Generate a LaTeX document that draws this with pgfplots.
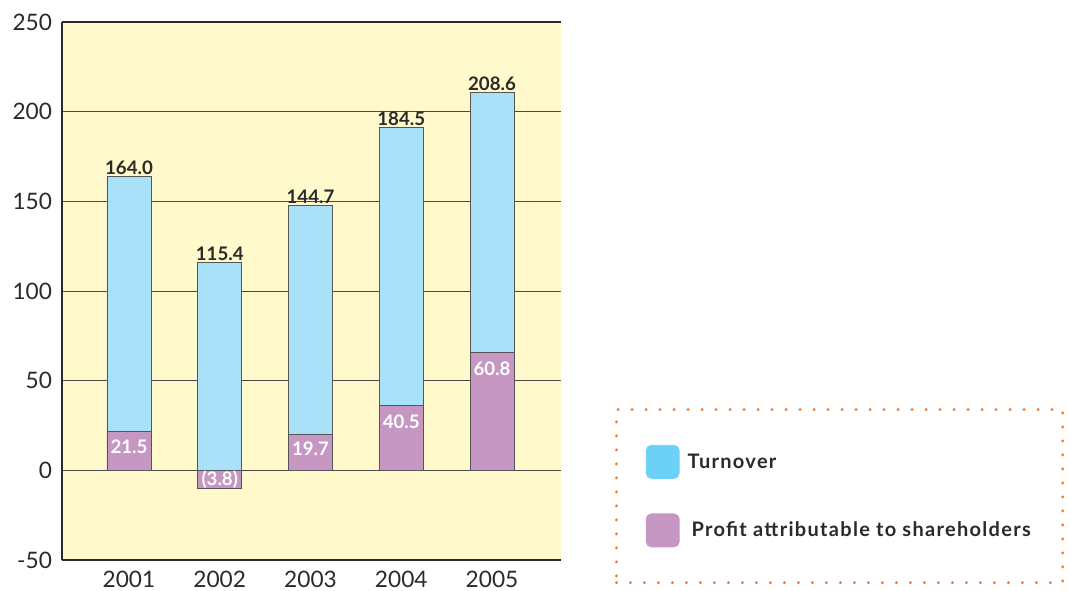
\documentclass[border=0pt]{standalone}
\usepackage{pgfplots}
\pgfplotsset{compat=1.18}
\usepackage{pgfplotstable}
\usepackage{fontspec}
\setmainfont{Lato}
\newfontfamily\legfont[LetterSpace=6.5]{Lato}
\definecolor{bg}{HTML}{FFF9CC}
\definecolor{turn}{HTML}{A9E1F9}
\definecolor{turnleg}{HTML}{6DD0F7}
\definecolor{prof}{HTML}{C697C3}
\definecolor{dots}{HTML}{E8772E}
\definecolor{txt}{HTML}{2A2A2A}
\pgfplotstableread{
x turnover tlabel profit plabel pdy
1 163.7 164.0 21.6 21.5 -11
2 115.8 115.4 -10.0 (3.8) 6.5
3 147.5 144.7 20.0 19.7 -10.5
4 191.5 184.5 36.2 40.5 -12
5 210.5 208.6 65.7 60.8 -12
}\datatable
\begin{document}
\begin{tikzpicture}
\useasboundingbox (0,0) rectangle (803.25pt,443.25pt);
\begin{axis}[
  at={(46.5pt,23.25pt)}, anchor=south west,
  scale only axis, width=374.25pt, height=403.5pt,
  xmin=0.262, xmax=5.76, ymin=-50, ymax=250,
  axis x line=box, axis y line=left,
  axis line style={draw=txt, line width=0.8pt, -},
  axis background/.style={fill=bg},
  xtick={1,2,3,4,5}, xticklabels={2001,2002,2003,2004,2005},
  ytick={-50,0,50,100,150,200,250},
  yticklabels={-50,0,50,100,150,200,250},
  major tick length=0pt,
  ymajorgrids, grid style={draw=txt!85, line width=0.6pt},
  tick label style={font=\fontsize{17pt}{20pt}\selectfont, text=txt},
  yticklabel style={xshift=-4pt},
  xticklabel style={yshift=-5pt},
  ybar, bar width=33pt,
  legend style={
    at={(1.108,-0.045)}, anchor=south west,
    draw=dots, dash pattern=on 0pt off 10.5pt, line cap=round, line width=2.3pt,
    fill=none, inner xsep=22pt, inner ysep=26.5pt, row sep=26pt,
    font=\legfont\bfseries\fontsize{15pt}{17pt}\selectfont, text=txt,
    legend cell align=left,
  },
]
\addplot[bar shift=0pt, fill=turn, draw=txt!80, line width=0.6pt,
  nodes near coords, point meta=explicit symbolic,
  nodes near coords style={anchor=south, inner sep=1pt, font=\bfseries\fontsize{14pt}{16pt}\selectfont, text=txt},
  legend image code/.code={\fill[turnleg, rounded corners=4pt] (0pt,-12.4pt) rectangle (24.8pt,12.4pt);}]
  table[x=x, y=turnover, meta=tlabel] {\datatable};
\addlegendentry{\hspace{4pt}Turnover}
\addplot[bar shift=0pt, fill=prof, draw=txt!80, line width=0.6pt,
  nodes near coords, point meta=explicit symbolic,
  visualization depends on={\thisrow{pdy} \as \pdy},
  nodes near coords style={anchor=center, yshift=\pdy pt, inner sep=0pt, font=\bfseries\fontsize{14pt}{16pt}\selectfont, text=white},
  legend image code/.code={\fill[prof, rounded corners=4pt] (0pt,-12.4pt) rectangle (24.8pt,12.4pt);}]
  table[x=x, y=profit, meta=plabel] {\datatable};
\addlegendentry{\hspace{7pt}Profit attributable to shareholders}
\end{axis}
\end{tikzpicture}
\end{document}
